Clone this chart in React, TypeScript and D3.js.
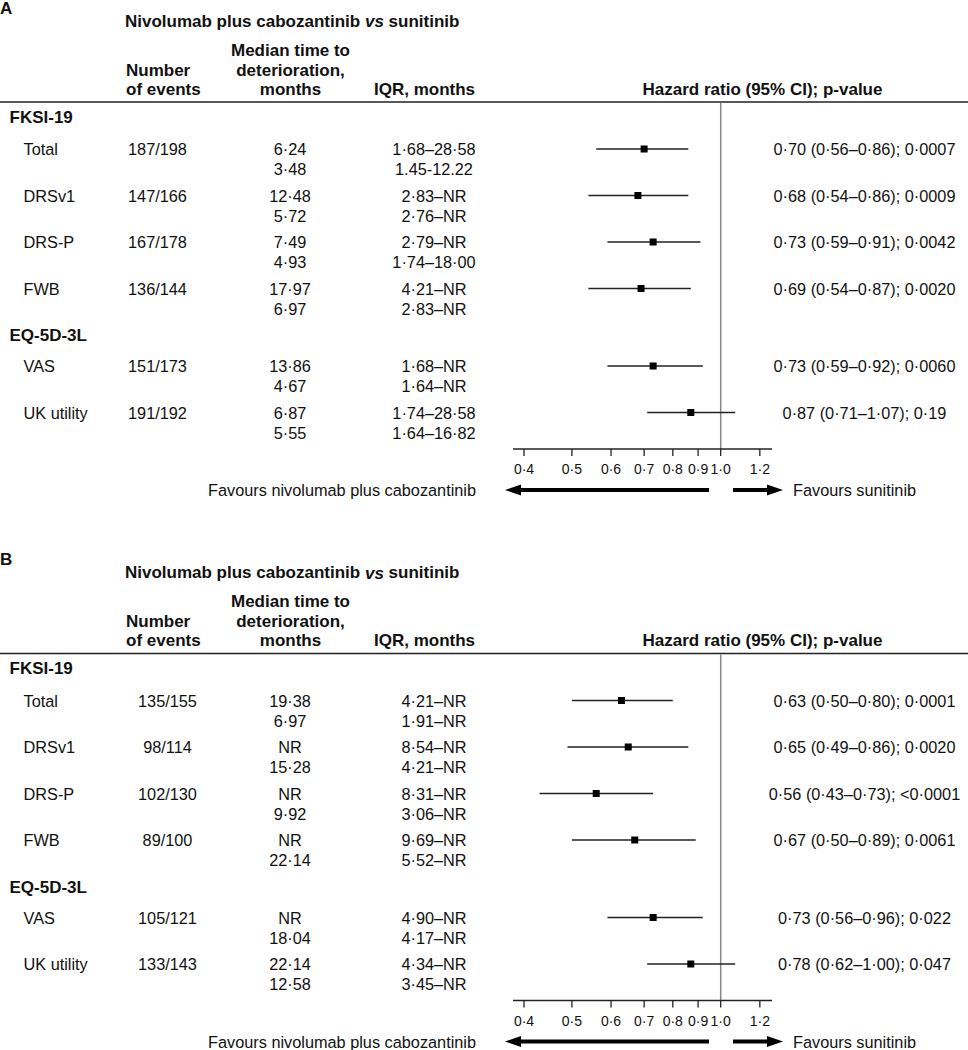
import React from "react";
import * as d3 from "d3";

// ---------- DATA ----------
const groups = ["FKSI-19", "EQ-5D-3L"];
const measures = ["Total", "DRSv1", "DRS-P", "FWB", "VAS", "UK utility"];
const measureGroup = [0, 0, 0, 0, 1, 1];

const tickValues = [0.4, 0.5, 0.6, 0.7, 0.8, 0.9, 1.0, 1.2];
const tickLabels = ["0·4", "0·5", "0·6", "0·7", "0·8", "0·9", "1·0", "1·2"];

// Panel A
const eventsA = ["187/198", "147/166", "167/178", "136/144", "151/173", "191/192"];
const medianComboA = ["6·24", "12·48", "7·49", "17·97", "13·86", "6·87"];
const medianSunA = ["3·48", "5·72", "4·93", "6·97", "4·67", "5·55"];
const iqrComboA = ["1·68–28·58", "2·83–NR", "2·79–NR", "4·21–NR", "1·68–NR", "1·74–28·58"];
const iqrSunA = ["1.45-12.22", "2·76–NR", "1·74–18·00", "2·83–NR", "1·64–NR", "1·64–16·82"];
const hrTextA = [
  "0·70 (0·56–0·86); 0·0007",
  "0·68 (0·54–0·86); 0·0009",
  "0·73 (0·59–0·91); 0·0042",
  "0·69 (0·54–0·87); 0·0020",
  "0·73 (0·59–0·92); 0·0060",
  "0·87 (0·71–1·07); 0·19",
];
const hrPlotA = [0.70, 0.68, 0.73, 0.69, 0.73, 0.87];
const loPlotA = [0.56, 0.54, 0.59, 0.54, 0.59, 0.71];
const hiPlotA = [0.86, 0.86, 0.91, 0.87, 0.92, 1.07];

// Panel B
const eventsB = ["135/155", "98/114", "102/130", "89/100", "105/121", "133/143"];
const medianComboB = ["19·38", "NR", "NR", "NR", "NR", "22·14"];
const medianSunB = ["6·97", "15·28", "9·92", "22·14", "18·04", "12·58"];
const iqrComboB = ["4·21–NR", "8·54–NR", "8·31–NR", "9·69–NR", "4·90–NR", "4·34–NR"];
const iqrSunB = ["1·91–NR", "4·21–NR", "3·06–NR", "5·52–NR", "4·17–NR", "3·45–NR"];
const hrTextB = [
  "0·63 (0·50–0·80); 0·0001",
  "0·65 (0·49–0·86); 0·0020",
  "0·56 (0·43–0·73); <0·0001",
  "0·67 (0·50–0·89); 0·0061",
  "0·73 (0·56–0·96); 0·022",
  "0·78 (0·62–1·00); 0·047",
];
// values as drawn in the figure's forest plot
const hrPlotB = [0.63, 0.65, 0.56, 0.67, 0.73, 0.87];
const loPlotB = [0.50, 0.49, 0.43, 0.50, 0.59, 0.71];
const hiPlotB = [0.80, 0.86, 0.73, 0.89, 0.92, 1.07];

// ---------- LAYOUT ----------
const W = 968;
const H = 1050;
const FONT = "'Liberation Sans', Arial, Helvetica, sans-serif";
const FS = 16.3;
const FSB = 17;

const x = d3.scaleLog().domain([0.38, 1.27]).range([513, 772]);

type PanelProps = {
  top: number;
  letter: string;
  eventsX: number;
  events: string[];
  medCombo: string[];
  medSun: string[];
  iqrCombo: string[];
  iqrSun: string[];
  hrText: string[];
  hr: number[];
  lo: number[];
  hi: number[];
};

function rowY(i: number) {
  return 149 + i * 46.5 + (measureGroup[i] > 0 ? 31 : 0);
}
function groupY(g: number) {
  return g === 0 ? 117 : 149 + 4 * 46.5 + 0.5;
}

function Panel(p: PanelProps) {
  const axisY = 449;
  const x1 = x(1);
  return (
    <g transform={`translate(0,${p.top})`} fontFamily={FONT} fill="#111">
      <text x={0} y={8} fontWeight="bold" fontSize={17} dominantBaseline="central">
        {p.letter}
      </text>
      <text x={125} y={21} fontWeight="bold" fontSize={FSB} dominantBaseline="central">
        Nivolumab plus cabozantinib <tspan fontStyle="italic">vs</tspan> sunitinib
      </text>
      {/* column headers */}
      <g fontWeight="bold" fontSize={FSB}>
        <text x={126} y={70} dominantBaseline="central">Number</text>
        <text x={126} y={89} dominantBaseline="central">of events</text>
        <text x={290.5} y={50} textAnchor="middle" dominantBaseline="central">Median time to</text>
        <text x={290.5} y={70} textAnchor="middle" dominantBaseline="central">deterioration,</text>
        <text x={290.5} y={89} textAnchor="middle" dominantBaseline="central">months</text>
        <text x={374} y={89} dominantBaseline="central">IQR, months</text>
        <text x={762.5} y={89} textAnchor="middle" dominantBaseline="central">
          Hazard ratio (95% CI); p-value
        </text>
      </g>
      <line x1={0} x2={W} y1={102} y2={102} stroke="#222" strokeWidth={1.6} />
      {/* reference line at HR = 1 */}
      <line x1={x1} x2={x1} y1={103} y2={axisY} stroke="#888" strokeWidth={1.5} />
      {/* group headers */}
      {groups.map((g, gi) => (
        <text key={g} x={9.5} y={groupY(gi)} fontWeight="bold" fontSize={FSB} dominantBaseline="central">
          {g}
        </text>
      ))}
      {/* rows */}
      {measures.map((m, i) => {
        const y = rowY(i);
        return (
          <g key={m} fontSize={FS}>
            <text x={23.5} y={y} dominantBaseline="central">{m}</text>
            <text x={p.eventsX} y={y} textAnchor="middle" dominantBaseline="central">{p.events[i]}</text>
            <text x={290} y={y} textAnchor="middle" dominantBaseline="central">{p.medCombo[i]}</text>
            <text x={290} y={y + 20} textAnchor="middle" dominantBaseline="central">{p.medSun[i]}</text>
            <text x={434} y={y} textAnchor="middle" dominantBaseline="central">{p.iqrCombo[i]}</text>
            <text x={434} y={y + 20} textAnchor="middle" dominantBaseline="central">{p.iqrSun[i]}</text>
            <line x1={x(p.lo[i])} x2={x(p.hi[i])} y1={y} y2={y} stroke="#222" strokeWidth={1.4} />
            <rect x={x(p.hr[i]) - 3.5} y={y - 3.5} width={7} height={7} fill="#000" />
            <text x={864.5} y={y} textAnchor="middle" dominantBaseline="central">{p.hrText[i]}</text>
          </g>
        );
      })}
      {/* axis */}
      <line x1={x.range()[0]} x2={x.range()[1]} y1={axisY} y2={axisY} stroke="#222" strokeWidth={1.4} />
      {tickValues.map((t, i) => (
        <g key={t}>
          <line x1={x(t)} x2={x(t)} y1={axisY} y2={axisY + 7} stroke="#222" strokeWidth={1.3} />
          <text x={x(t)} y={469} textAnchor="middle" dominantBaseline="central" fontSize={14}>
            {tickLabels[i]}
          </text>
        </g>
      ))}
      {/* favours arrows */}
      <line x1={709} x2={518} y1={490} y2={490} stroke="#000" strokeWidth={4.2} />
      <polygon points={`505,490 521,484.5 521,495.5`} fill="#000" />
      <line x1={733} x2={768} y1={490} y2={490} stroke="#000" strokeWidth={4.2} />
      <polygon points={`783,490 767,484.5 767,495.5`} fill="#000" />
      <text x={476} y={490} textAnchor="end" dominantBaseline="central" fontSize={FS}>
        Favours nivolumab plus cabozantinib
      </text>
      <text x={793} y={490} dominantBaseline="central" fontSize={FS}>
        Favours sunitinib
      </text>
    </g>
  );
}

export default function App() {
  return (
    <svg
      width={W}
      height={H}
      viewBox={`0 0 ${W} ${H}`}
      style={{ position: "absolute", left: 0, top: 0, background: "#fff" }}
    >
      <rect width={W} height={H} fill="#fff" />
      <Panel
        top={0}
        letter="A"
        eventsX={157.5}
        events={eventsA}
        medCombo={medianComboA}
        medSun={medianSunA}
        iqrCombo={iqrComboA}
        iqrSun={iqrSunA}
        hrText={hrTextA}
        hr={hrPlotA}
        lo={loPlotA}
        hi={hiPlotA}
      />
      <Panel
        top={551.5}
        letter="B"
        eventsX={167.5}
        events={eventsB}
        medCombo={medianComboB}
        medSun={medianSunB}
        iqrCombo={iqrComboB}
        iqrSun={iqrSunB}
        hrText={hrTextB}
        hr={hrPlotB}
        lo={loPlotB}
        hi={hiPlotB}
      />
    </svg>
  );
}
